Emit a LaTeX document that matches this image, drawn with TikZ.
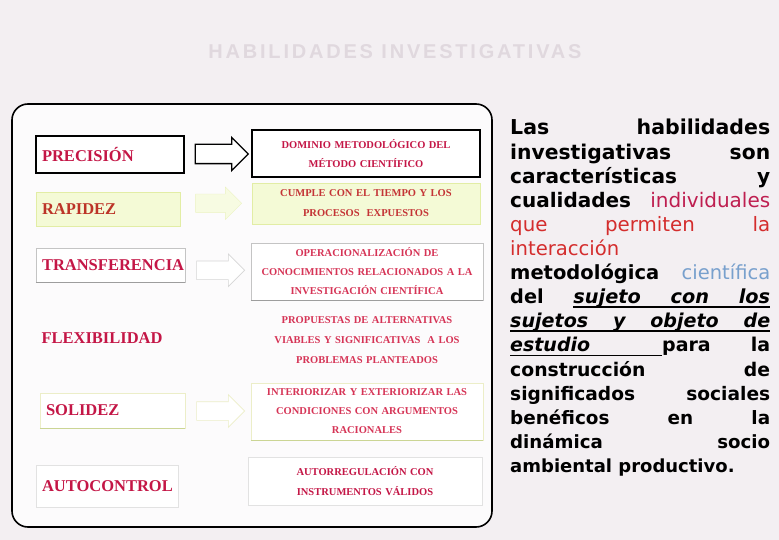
\documentclass[tikz,border=0pt]{standalone}
\usepackage{fontspec}
\setmainfont{Liberation Serif}
\newfontfamily\bodyfont{DejaVu Sans}
\newfontfamily\titlefont[LetterSpace=14]{Liberation Sans}
\usetikzlibrary{shapes.arrows,calc}
\definecolor{bg}{RGB}{243,239,242}
\definecolor{panel}{RGB}{252,251,252}
\definecolor{crim}{RGB}{196,22,70}
\definecolor{pinkred}{RGB}{214,52,86}
\definecolor{rapid}{RGB}{188,52,40}
\definecolor{ygfill}{RGB}{244,250,214}
\definecolor{ygline}{RGB}{226,237,165}
\definecolor{lgray}{RGB}{196,196,196}
\definecolor{vfaint}{RGB}{226,226,226}
\definecolor{yfaint}{RGB}{236,238,200}
\definecolor{indiv}{RGB}{190,30,80}
\definecolor{permred}{RGB}{212,45,45}
\definecolor{cblue}{RGB}{120,160,205}
\definecolor{titlec}{RGB}{224,216,222}
\newcommand\ulw[1]{\setbox0\hbox{#1}\rlap{\vrule height -2.6pt depth 4pt width \wd0}\box0}
\newcommand\ulgap{\leaders\hrule height -2.6pt depth 4pt\hfill}
\begin{document}
\begin{tikzpicture}[x=1pt,y=-1pt,
  lbl/.style={inner xsep=6pt, inner ysep=0pt, align=left, text width=#1,
    font=\fontsize{16.5}{18}\selectfont\bfseries, text=crim},
  rbox/.style={inner sep=2pt, align=center, text width=#1, text=pinkred},
  rfont/.style={font=\fontsize{10.5}{#1}\selectfont\bfseries},
  blockarr/.style={single arrow, minimum height=53pt, minimum width=32pt,
    inner sep=0pt, inner ysep=9pt, single arrow head extend=7pt},
  txt/.style={anchor=base west, inner sep=0pt,
    font=\bodyfont\fontsize{#1}{20}\selectfont\bfseries},
  rtxt/.style={anchor=base west, inner sep=0pt, text=permred,
    font=\bodyfont\fontsize{#1}{20}\selectfont}
]
% background and bounding box
\fill[bg] (0,0) rectangle (779,540);
\useasboundingbox (0,0) rectangle (779,540);
% title
\node[font=\titlefont\fontsize{20}{24}\selectfont\bfseries, text=titlec] (title) at (395,52) {HABILIDADES INVESTIGATIVAS};
% outer panel
\draw[line width=1.6pt, fill=panel, rounded corners=16pt] (12,104) rectangle (492,527);

% left column
\node[lbl=136pt, draw=black, line width=1.7pt, fill=white, minimum height=37pt] (pre) at (110,154.5) {PRECISIÓN};
\node[lbl=132pt, draw=ygline, fill=ygfill, minimum height=34pt, text=rapid] (rap) at (108,209) {RAPIDEZ};
\node[lbl=137pt, draw=lgray, fill=white, minimum height=34pt] (tra) at (110.5,265) {TRANSFERENCIA};
\node[lbl=137pt, minimum height=34pt] (flex) at (110,338) {FLEXIBILIDAD};
\node[lbl=133pt, draw=yfaint, fill=white, minimum height=35pt] (sol) at (112.5,410.5) {SOLIDEZ};
\node[lbl=130pt, draw=vfaint, fill=white, minimum height=42pt] (auto) at (107,486) {AUTOCONTROL};
\draw[line width=0.8pt, lgray!80!black] (tra.south west) -- (tra.south east);
\draw[line width=0.8pt, ygline!90!black] (sol.south west) -- (sol.south east);

% right column
\node[rbox=224pt, rfont=19, draw=black, line width=1.7pt, fill=white, minimum height=47pt, text=crim] (r1) at (366,153.5) {DOMINIO METODOLÓGICO DEL\\MÉTODO CIENTÍFICO};
\node[rbox=224pt, rfont=20, draw=ygline, fill=ygfill, minimum height=41pt, text=rapid!70!pinkred] (r2) at (366,203.5) {CUMPLE CON EL TIEMPO Y LOS\\PROCESOS\ \ EXPUESTOS};
\node[rbox=228pt, rfont=19, draw=lgray, fill=white, minimum height=57pt] (r3) at (367,271.5) {OPERACIONALIZACIÓN DE\\CONOCIMIENTOS RELACIONADOS A LA\\INVESTIGACIÓN CIENTÍFICA};
\node[rbox=228pt, rfont=20, minimum height=57pt] (r4) at (367,340) {PROPUESTAS DE ALTERNATIVAS\\VIABLES Y SIGNIFICATIVAS\ \ A LOS\\PROBLEMAS PLANTEADOS};
\node[rbox=228pt, rfont=19, draw=yfaint, fill=white, minimum height=57pt] (r5) at (367,411.5) {INTERIORIZAR Y EXTERIORIZAR LAS\\CONDICIONES CON ARGUMENTOS\\RACIONALES};
\node[rbox=230pt, rfont=20, draw=vfaint, fill=white, minimum height=48pt, text=crim] (r6) at (365,481) {AUTORREGULACIÓN CON\\INSTRUMENTOS VÁLIDOS};
\draw[line width=0.8pt, lgray!80!black] (r3.south west) -- (r3.south east);
\draw[line width=0.8pt, ygline!90!black] (r5.south west) -- (r5.south east);

% arrows
\node[blockarr, draw=black, line width=1.3pt, fill=white] (a1) at ($(pre.east)!0.5!(r1.west)+(-1,0)$) {};
\node[blockarr, draw=ygline!70, fill=ygfill!70, minimum height=46pt, minimum width=26pt] (a2) at ($(rap.east)!0.5!(r2.west)+(-2,-3)$) {};
\node[blockarr, draw=lgray!70, fill=white, line width=0.6pt, minimum height=48pt] (a3) at ($(tra.east)!0.5!(r3.west)+(-2,2)$) {};
\node[blockarr, draw=yfaint, fill=white, line width=0.6pt, minimum height=48pt] (a5) at ($(sol.east)!0.5!(r5.west)+(-2,0)$) {};

% right text
\node[txt=20.5] (l1) at (510,135.0) {\makebox[260pt]{Las\hfill habilidades}};
\node[txt=20.3] (l2) at (510,159.1) {\makebox[260pt]{investigativas\hfill son}};
\node[txt=20.1] (l3) at (510,183.2) {\makebox[260pt]{características\hfill y}};
\node[txt=20] (l4) at (510,207.3) {\makebox[260pt]{cualidades\hfill{\color{indiv}\mdseries individuales}}};
\node[rtxt=19.8] (l5) at (510,231.4) {\makebox[260pt]{que\hfill permiten\hfill la}};
\node[rtxt=19.6] (l6) at (510,255.5) {interacción};
\node[txt=19.5] (l7) at (510,279.6) {\makebox[260pt]{metodológica\hfill{\color{cblue}\mdseries científica}}};
\node[txt=19.3] (l8) at (510,303.7) {\makebox[260pt]{del\hfill\itshape\ulw{sujeto}\ulgap\ulw{con}\ulgap\ulw{los}}};
\node[txt=19.1] (l9) at (510,327.8) {\makebox[260pt]{\itshape\ulw{sujetos}\ulgap\ulw{y}\ulgap\ulw{objeto}\ulgap\ulw{de}}};
\node[txt=19] (l10) at (510,351.9) {\makebox[260pt]{{\itshape\ulw{estudio}}\leaders\hrule height -2.6pt depth 4pt\hskip 72pt para\hfill la}};
\node[txt=18.8] (l11) at (510,376.0) {\makebox[260pt]{construcción\hfill de}};
\node[txt=18.6] (l12) at (510,400.1) {\makebox[260pt]{significados\hfill sociales}};
\node[txt=18.4] (l13) at (510,424.2) {\makebox[260pt]{benéficos\hfill en\hfill la}};
\node[txt=18.2] (l14) at (510,448.3) {\makebox[260pt]{dinámica\hfill socio}};
\node[txt=18] (l15) at (510,472.4) {ambiental productivo.};
\end{tikzpicture}
\end{document}
